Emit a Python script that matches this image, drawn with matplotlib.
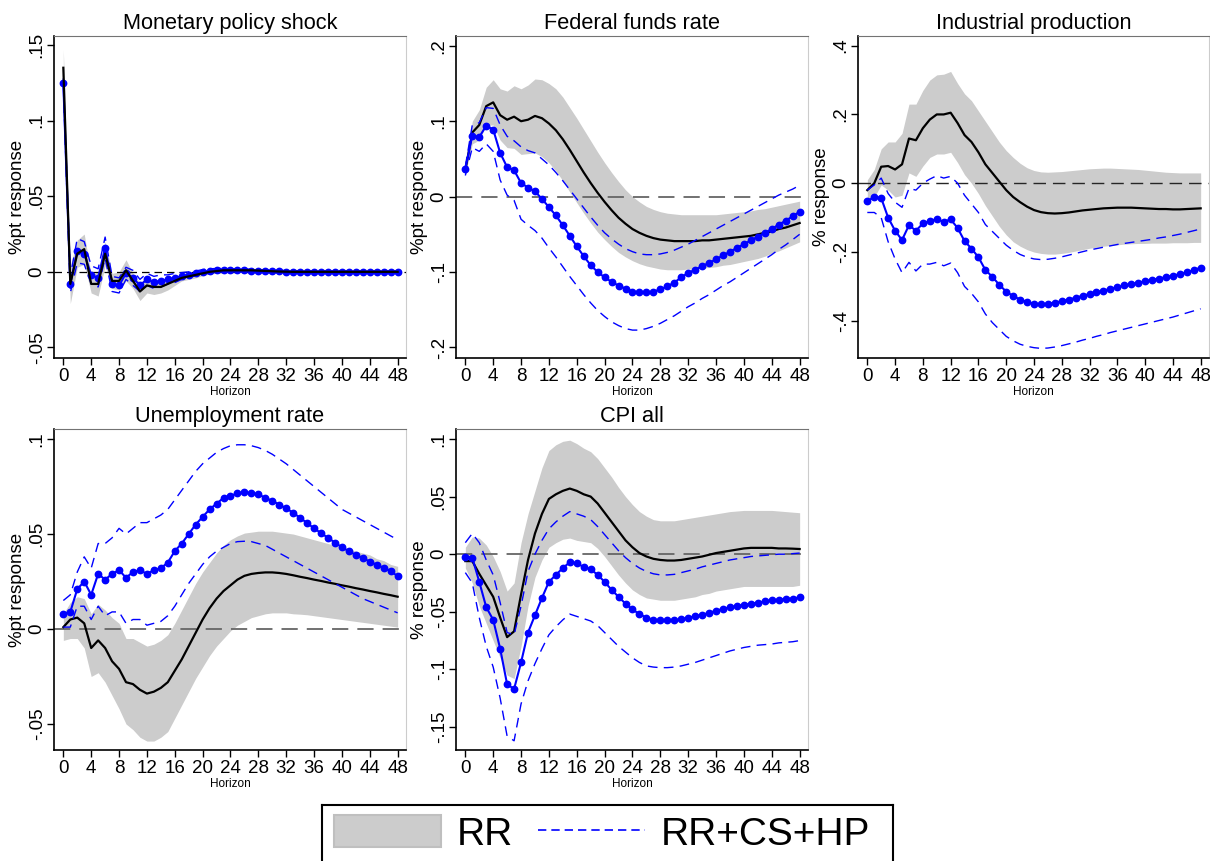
import numpy as np
import matplotlib
matplotlib.use("Agg")
import matplotlib.pyplot as plt
from matplotlib.patches import Patch
from matplotlib.lines import Line2D
from matplotlib.ticker import FuncFormatter

plt.rcParams['font.family'] = ['Liberation Sans', 'DejaVu Sans']

horizon = np.arange(49)
xticks = list(range(0, 49, 4))

# Monetary policy shock
mps_rr = [0.135, -0.008, 0.012, 0.015, -0.008, -0.008, 0.012, -0.006, -0.006, 0.001,
          -0.006, -0.013, -0.009, -0.010, -0.010, -0.008, -0.006, -0.004, -0.003, -0.002,
          -0.001, 0.000, 0.0005, 0.001, 0.001, 0.001, 0.001, 0.001, 0.0008, 0.0006,
          0.0004, 0.0002, 0.0001, 0.0, 0.0, 0.0, 0.0, 0.0, 0.0, 0.0,
          0.0, 0.0, 0.0, 0.0, 0.0, 0.0, 0.0, 0.0, 0.0]
mps_rr_hi = [0.147, 0.004, 0.021, 0.025, -0.002, 0.000, 0.020, -0.001, 0.000, 0.008,
             -0.001, -0.007, -0.004, -0.005, -0.006, -0.004, -0.003, -0.002, -0.001, 0.000,
             0.0005, 0.0015, 0.002, 0.0025, 0.0025, 0.0025, 0.0025, 0.0022, 0.002, 0.0017,
             0.0014, 0.0012, 0.001, 0.0009, 0.0008, 0.0008, 0.0007, 0.0007, 0.0007, 0.0007,
             0.0007, 0.0007, 0.0007, 0.0007, 0.0007, 0.0007, 0.0007, 0.0007, 0.0007]
mps_rr_lo = [0.123, -0.021, 0.003, 0.005, -0.014, -0.016, 0.004, -0.011, -0.012, -0.006,
             -0.011, -0.019, -0.014, -0.015, -0.014, -0.012, -0.009, -0.006, -0.005, -0.004,
             -0.0025, -0.0015, -0.001, -0.0005, -0.0005, -0.0005, -0.0005, -0.0005, -0.0006, -0.0007,
             -0.0008, -0.0009, -0.0009, -0.0009, -0.0008, -0.0008, -0.0007, -0.0007, -0.0007, -0.0007,
             -0.0007, -0.0007, -0.0007, -0.0007, -0.0007, -0.0007, -0.0007, -0.0007, -0.0007]
mps_hp = [0.125, -0.008, 0.014, 0.012, -0.002, -0.004, 0.016, -0.008, -0.009, -0.001,
          -0.004, -0.009, -0.005, -0.007, -0.006, -0.005, -0.004, -0.003, -0.002, -0.001,
          0.000, 0.0005, 0.001, 0.001, 0.001, 0.001, 0.001, 0.0008, 0.0006, 0.0005,
          0.0004, 0.0003, 0.0002, 0.0001, 0.0, 0.0, 0.0, 0.0, 0.0, 0.0,
          0.0, 0.0, 0.0, 0.0, 0.0, 0.0, 0.0, 0.0, 0.0]
mps_hp_hi = [0.128, -0.003, 0.022, 0.020, 0.004, 0.002, 0.023, -0.003, -0.004, 0.003,
             0.001, -0.005, -0.001, -0.003, -0.002, -0.002, -0.001, -0.0005, 0.000, 0.0005,
             0.0015, 0.002, 0.0022, 0.0022, 0.002, 0.002, 0.0019, 0.0017, 0.0015, 0.0013,
             0.0011, 0.001, 0.0009, 0.0008, 0.0007, 0.0007, 0.0006, 0.0006, 0.0006, 0.0006,
             0.0006, 0.0006, 0.0006, 0.0006, 0.0006, 0.0006, 0.0006, 0.0006, 0.0006]
mps_hp_lo = [0.122, -0.014, 0.006, 0.005, -0.008, -0.010, 0.009, -0.013, -0.014, -0.005,
             -0.009, -0.013, -0.009, -0.011, -0.010, -0.008, -0.007, -0.005, -0.004, -0.0025,
             -0.0015, -0.001, -0.0002, 0.0, 0.0, 0.0, 0.0, -0.0001, -0.0003, -0.0004,
             -0.0005, -0.0006, -0.0007, -0.0007, -0.0007, -0.0007, -0.0006, -0.0006, -0.0006, -0.0006,
             -0.0006, -0.0006, -0.0006, -0.0006, -0.0006, -0.0006, -0.0006, -0.0006, -0.0006]

# Federal funds rate
ffr_rr = [0.035, 0.085, 0.095, 0.120, 0.125, 0.108, 0.102, 0.106, 0.100, 0.102,
          0.107, 0.104, 0.097, 0.088, 0.076, 0.062, 0.047, 0.032, 0.018, 0.005,
          -0.007, -0.018, -0.028, -0.036, -0.043, -0.048, -0.052, -0.055, -0.057, -0.058,
          -0.059, -0.059, -0.059, -0.059, -0.058, -0.058, -0.057, -0.056, -0.055, -0.054,
          -0.053, -0.052, -0.050, -0.048, -0.046, -0.043, -0.041, -0.038, -0.035]
ffr_rr_hi = [0.040, 0.100, 0.115, 0.145, 0.155, 0.143, 0.140, 0.147, 0.143, 0.148,
             0.156, 0.155, 0.150, 0.143, 0.132, 0.118, 0.104, 0.089, 0.074, 0.059,
             0.045, 0.032, 0.020, 0.009, 0.000, -0.007, -0.013, -0.017, -0.020, -0.022,
             -0.023, -0.024, -0.024, -0.024, -0.024, -0.024, -0.024, -0.023, -0.022, -0.021,
             -0.020, -0.019, -0.017, -0.016, -0.014, -0.012, -0.010, -0.008, -0.006]
ffr_rr_lo = [0.030, 0.070, 0.075, 0.095, 0.095, 0.075, 0.065, 0.064, 0.056, 0.057,
             0.058, 0.053, 0.045, 0.034, 0.021, 0.006, -0.008, -0.022, -0.035, -0.047,
             -0.057, -0.066, -0.074, -0.080, -0.085, -0.089, -0.092, -0.094, -0.096, -0.097,
             -0.097, -0.097, -0.096, -0.096, -0.095, -0.094, -0.093, -0.091, -0.090, -0.088,
             -0.086, -0.084, -0.082, -0.079, -0.075, -0.072, -0.068, -0.064, -0.060]
ffr_hp = [0.037, 0.081, 0.079, 0.094, 0.089, 0.058, 0.039, 0.035, 0.018, 0.012,
          0.007, -0.003, -0.014, -0.025, -0.038, -0.052, -0.066, -0.079, -0.091, -0.100,
          -0.107, -0.113, -0.118, -0.122, -0.126, -0.127, -0.127, -0.126, -0.123, -0.119,
          -0.114, -0.107, -0.101, -0.097, -0.092, -0.088, -0.083, -0.078, -0.073, -0.068,
          -0.063, -0.058, -0.053, -0.048, -0.043, -0.037, -0.032, -0.026, -0.020]
ffr_hp_hi = [0.040, 0.095, 0.098, 0.118, 0.117, 0.095, 0.080, 0.074, 0.066, 0.061,
             0.058, 0.050, 0.042, 0.032, 0.021, 0.009, -0.003, -0.015, -0.027, -0.038,
             -0.048, -0.056, -0.063, -0.069, -0.073, -0.076, -0.077, -0.077, -0.076, -0.074,
             -0.071, -0.067, -0.063, -0.058, -0.053, -0.048, -0.043, -0.038, -0.033, -0.028,
             -0.023, -0.018, -0.013, -0.008, -0.003, 0.002, 0.006, 0.010, 0.015]
ffr_hp_lo = [0.028, 0.065, 0.060, 0.070, 0.060, 0.022, 0.002, -0.005, -0.030, -0.038,
             -0.045, -0.055, -0.068, -0.080, -0.093, -0.106, -0.118, -0.130, -0.141, -0.151,
             -0.159, -0.166, -0.171, -0.175, -0.177, -0.177, -0.175, -0.172, -0.168, -0.163,
             -0.158, -0.152, -0.146, -0.141, -0.135, -0.130, -0.124, -0.118, -0.113, -0.107,
             -0.101, -0.095, -0.089, -0.083, -0.077, -0.070, -0.064, -0.057, -0.050]

# Industrial production
ip_rr = [-0.020, 0.000, 0.048, 0.050, 0.040, 0.055, 0.130, 0.125, 0.160, 0.185,
         0.200, 0.200, 0.205, 0.175, 0.140, 0.120, 0.090, 0.055, 0.030, 0.005,
         -0.020, -0.040, -0.055, -0.068, -0.078, -0.084, -0.087, -0.088, -0.087, -0.085,
         -0.082, -0.079, -0.077, -0.075, -0.073, -0.072, -0.071, -0.071, -0.071, -0.072,
         -0.073, -0.074, -0.075, -0.075, -0.076, -0.076, -0.075, -0.074, -0.073]
ip_rr_hi = [0.010, 0.040, 0.100, 0.120, 0.120, 0.145, 0.230, 0.230, 0.270, 0.300,
            0.315, 0.317, 0.325, 0.290, 0.260, 0.240, 0.210, 0.180, 0.150, 0.120,
            0.095, 0.075, 0.058, 0.045, 0.037, 0.033, 0.032, 0.033, 0.034, 0.036,
            0.038, 0.040, 0.042, 0.043, 0.044, 0.044, 0.043, 0.042, 0.041, 0.040,
            0.038, 0.036, 0.034, 0.032, 0.031, 0.030, 0.030, 0.030, 0.030]
ip_rr_lo = [-0.045, -0.040, -0.005, -0.020, -0.040, -0.035, 0.030, 0.020, 0.050, 0.075,
            0.085, 0.085, 0.090, 0.060, 0.025, 0.000, -0.030, -0.065, -0.095, -0.125,
            -0.150, -0.170, -0.183, -0.193, -0.200, -0.204, -0.206, -0.206, -0.204, -0.201,
            -0.197, -0.193, -0.189, -0.186, -0.183, -0.181, -0.179, -0.177, -0.176, -0.175,
            -0.175, -0.174, -0.174, -0.174, -0.173, -0.173, -0.173, -0.172, -0.172]
ip_hp = [-0.052, -0.040, -0.043, -0.100, -0.138, -0.165, -0.122, -0.138, -0.117, -0.110,
         -0.104, -0.112, -0.105, -0.130, -0.168, -0.190, -0.215, -0.252, -0.272, -0.295,
         -0.315, -0.328, -0.338, -0.345, -0.350, -0.352, -0.350, -0.347, -0.343, -0.338,
         -0.333, -0.327, -0.322, -0.317, -0.312, -0.307, -0.302, -0.297, -0.293, -0.289,
         -0.285, -0.281, -0.277, -0.273, -0.269, -0.264, -0.259, -0.253, -0.245]
ip_hp_hi = [-0.020, -0.005, 0.015, -0.030, -0.055, -0.070, -0.015, -0.020, 0.000, 0.012,
            0.022, 0.015, 0.020, 0.000, -0.035, -0.060, -0.085, -0.120, -0.140, -0.160,
            -0.180, -0.195, -0.207, -0.215, -0.220, -0.222, -0.221, -0.218, -0.214, -0.209,
            -0.204, -0.199, -0.194, -0.190, -0.186, -0.182, -0.178, -0.175, -0.172, -0.169,
            -0.166, -0.163, -0.159, -0.156, -0.152, -0.148, -0.143, -0.138, -0.133]
ip_hp_lo = [-0.085, -0.085, -0.100, -0.170, -0.220, -0.260, -0.230, -0.255, -0.235, -0.235,
            -0.230, -0.240, -0.232, -0.260, -0.300, -0.320, -0.345, -0.380, -0.405, -0.425,
            -0.445, -0.458, -0.468, -0.474, -0.478, -0.480, -0.479, -0.476, -0.472, -0.467,
            -0.462, -0.456, -0.451, -0.445, -0.440, -0.434, -0.429, -0.424, -0.419, -0.414,
            -0.409, -0.404, -0.399, -0.394, -0.389, -0.383, -0.377, -0.371, -0.365]

# Unemployment rate
ur_rr = [0.001, 0.005, 0.006, 0.003, -0.010, -0.006, -0.010, -0.017, -0.021, -0.028,
         -0.029, -0.032, -0.034, -0.033, -0.031, -0.028, -0.022, -0.016, -0.009, -0.002,
         0.005, 0.011, 0.016, 0.020, 0.023, 0.026, 0.028, 0.029, 0.0295, 0.0298,
         0.0298, 0.0295, 0.029, 0.0283, 0.0275, 0.0268, 0.026, 0.0253, 0.0245, 0.0238,
         0.023, 0.0223, 0.0215, 0.0208, 0.020, 0.0193, 0.0185, 0.0178, 0.017]
ur_rr_hi = [0.008, 0.014, 0.017, 0.016, 0.008, 0.013, 0.010, 0.006, 0.003, -0.005,
            -0.005, -0.007, -0.009, -0.008, -0.006, -0.003, 0.003, 0.010, 0.017, 0.024,
            0.030, 0.035, 0.040, 0.044, 0.047, 0.049, 0.0505, 0.051, 0.0515, 0.0515,
            0.0515, 0.051, 0.0505, 0.050, 0.049, 0.048, 0.047, 0.046, 0.045, 0.044,
            0.043, 0.042, 0.041, 0.040, 0.039, 0.037, 0.036, 0.034, 0.033]
ur_rr_lo = [-0.006, -0.005, -0.005, -0.010, -0.025, -0.023, -0.028, -0.035, -0.042, -0.050,
            -0.053, -0.057, -0.059, -0.059, -0.057, -0.054, -0.047, -0.040, -0.033, -0.026,
            -0.020, -0.014, -0.009, -0.005, -0.001, 0.002, 0.004, 0.006, 0.007, 0.008,
            0.0085, 0.0085, 0.0085, 0.008, 0.0078, 0.0075, 0.007, 0.0065, 0.006, 0.0055,
            0.005, 0.0045, 0.004, 0.0035, 0.003, 0.0025, 0.002, 0.0015, 0.001]
ur_hp = [0.008, 0.009, 0.021, 0.025, 0.018, 0.029, 0.026, 0.029, 0.031, 0.027,
         0.030, 0.031, 0.029, 0.031, 0.032, 0.035, 0.041, 0.045, 0.050, 0.055,
         0.059, 0.063, 0.066, 0.069, 0.070, 0.0715, 0.072, 0.0715, 0.071, 0.069,
         0.0675, 0.0655, 0.0635, 0.0612, 0.0585, 0.0558, 0.053, 0.0505, 0.048, 0.0455,
         0.043, 0.041, 0.039, 0.0373, 0.0355, 0.0338, 0.0322, 0.0305, 0.0278]
ur_hp_hi = [0.015, 0.018, 0.030, 0.038, 0.032, 0.045, 0.045, 0.048, 0.053, 0.050,
            0.053, 0.056, 0.056, 0.058, 0.060, 0.063, 0.068, 0.073, 0.078, 0.083,
            0.087, 0.090, 0.093, 0.095, 0.0965, 0.097, 0.097, 0.0965, 0.0955, 0.094,
            0.092, 0.0895, 0.087, 0.084, 0.081, 0.078, 0.075, 0.072, 0.069, 0.066,
            0.063, 0.061, 0.059, 0.057, 0.055, 0.053, 0.051, 0.049, 0.047]
ur_hp_lo = [0.001, 0.001, 0.012, 0.012, 0.005, 0.012, 0.007, 0.009, 0.009, 0.003,
            0.005, 0.005, 0.002, 0.003, 0.004, 0.007, 0.012, 0.018, 0.024, 0.029,
            0.034, 0.038, 0.041, 0.043, 0.045, 0.046, 0.0462, 0.046, 0.045, 0.044,
            0.042, 0.040, 0.038, 0.036, 0.034, 0.032, 0.030, 0.028, 0.026, 0.024,
            0.022, 0.020, 0.018, 0.016, 0.0145, 0.013, 0.0115, 0.010, 0.0085]

# CPI all
cpi_rr = [-0.006, -0.006, -0.017, -0.027, -0.037, -0.055, -0.072, -0.067, -0.035, -0.005,
          0.018, 0.035, 0.048, 0.052, 0.055, 0.057, 0.055, 0.052, 0.050, 0.044,
          0.036, 0.028, 0.020, 0.012, 0.006, 0.001, -0.002, -0.004, -0.005, -0.0055,
          -0.0055, -0.005, -0.004, -0.003, -0.002, -0.0005, 0.001, 0.002, 0.003, 0.004,
          0.005, 0.0055, 0.0055, 0.0055, 0.0055, 0.005, 0.005, 0.0048, 0.0045]
cpi_rr_hi = [0.006, 0.015, 0.014, 0.008, -0.002, -0.015, -0.032, -0.025, 0.010, 0.035,
             0.055, 0.075, 0.090, 0.095, 0.098, 0.099, 0.096, 0.092, 0.089, 0.083,
             0.075, 0.067, 0.058, 0.050, 0.043, 0.037, 0.033, 0.030, 0.029, 0.029,
             0.029, 0.030, 0.031, 0.032, 0.033, 0.034, 0.035, 0.036, 0.037, 0.0375,
             0.038, 0.038, 0.038, 0.038, 0.038, 0.0375, 0.037, 0.0365, 0.036]
cpi_rr_lo = [-0.012, -0.025, -0.045, -0.060, -0.075, -0.090, -0.105, -0.108, -0.080, -0.045,
             -0.020, -0.005, 0.006, 0.010, 0.013, 0.014, 0.012, 0.011, 0.010, 0.005,
             -0.002, -0.010, -0.018, -0.025, -0.031, -0.035, -0.038, -0.039, -0.040, -0.040,
             -0.040, -0.039, -0.038, -0.037, -0.035, -0.034, -0.032, -0.031, -0.030, -0.029,
             -0.028, -0.028, -0.028, -0.028, -0.028, -0.028, -0.028, -0.028, -0.027]
cpi_hp = [-0.002, -0.003, -0.024, -0.046, -0.057, -0.082, -0.113, -0.117, -0.094, -0.068,
          -0.053, -0.038, -0.024, -0.018, -0.012, -0.007, -0.008, -0.011, -0.013, -0.018,
          -0.024, -0.031, -0.037, -0.043, -0.048, -0.052, -0.055, -0.057, -0.0575, -0.0575,
          -0.0575, -0.0565, -0.055, -0.054, -0.0525, -0.051, -0.049, -0.0475, -0.046, -0.045,
          -0.044, -0.043, -0.042, -0.041, -0.040, -0.0395, -0.039, -0.0385, -0.0375]
cpi_hp_hi = [0.010, 0.018, 0.010, -0.005, -0.018, -0.042, -0.068, -0.070, -0.045, -0.015,
             0.000, 0.012, 0.022, 0.028, 0.033, 0.037, 0.035, 0.033, 0.030, 0.024,
             0.017, 0.010, 0.003, -0.003, -0.008, -0.012, -0.015, -0.017, -0.018, -0.018,
             -0.0175, -0.016, -0.0145, -0.013, -0.011, -0.0095, -0.008, -0.0065, -0.005, -0.004,
             -0.003, -0.002, -0.0015, -0.001, -0.0005, 0.000, 0.000, 0.0005, 0.001]
cpi_hp_lo = [-0.016, -0.025, -0.055, -0.080, -0.098, -0.125, -0.158, -0.162, -0.130, -0.110,
             -0.095, -0.082, -0.070, -0.063, -0.057, -0.052, -0.054, -0.056, -0.058, -0.062,
             -0.068, -0.074, -0.080, -0.085, -0.090, -0.094, -0.097, -0.098, -0.0985, -0.0985,
             -0.098, -0.097, -0.0955, -0.094, -0.092, -0.090, -0.088, -0.086, -0.084, -0.0825,
             -0.081, -0.080, -0.079, -0.0785, -0.078, -0.077, -0.0765, -0.076, -0.075]

W, H = 1210, 861


def px_rect(left, right, top, bottom):
    # pixel box -> figure fraction [l, b, w, h]
    return [left / W, 1 - bottom / H, (right - left) / W, (bottom - top) / H]


def stata_fmt(v, pos=None):
    s = "%g" % round(v, 4)
    return s.replace("0.", ".")


panels = [
    dict(title="Monetary policy shock", ylabel="%pt response",
         rr=mps_rr, rr_lo=mps_rr_lo, rr_hi=mps_rr_hi, hp=mps_hp, hp_lo=mps_hp_lo, hp_hi=mps_hp_hi,
         ylim=(-0.057, 0.156), yticks=[-0.05, 0, 0.05, 0.1, 0.15],
         box=(54, 406, 36, 358), zero=("black", (0, (6, 4)), 0.9), black_top=True),
    dict(title="Federal funds rate", ylabel="%pt response",
         rr=ffr_rr, rr_lo=ffr_rr_lo, rr_hi=ffr_rr_hi, hp=ffr_hp, hp_lo=ffr_hp_lo, hp_hi=ffr_hp_hi,
         ylim=(-0.214, 0.213), yticks=[-0.2, -0.1, 0, 0.1, 0.2],
         box=(456, 808, 36, 358), zero=("0.4", (0, (9, 5)), 1.3), black_top=False),
    dict(title="Industrial production", ylabel="% response",
         rr=ip_rr, rr_lo=ip_rr_lo, rr_hi=ip_rr_hi, hp=ip_hp, hp_lo=ip_hp_lo, hp_hi=ip_hp_hi,
         ylim=(-0.508, 0.428), yticks=[-0.4, -0.2, 0, 0.2, 0.4],
         box=(858, 1209, 36, 358), zero=("0.15", (0, (9, 5)), 1.0), black_top=False),
    dict(title="Unemployment rate", ylabel="%pt response",
         rr=ur_rr, rr_lo=ur_rr_lo, rr_hi=ur_rr_hi, hp=ur_hp, hp_lo=ur_hp_lo, hp_hi=ur_hp_hi,
         ylim=(-0.0637, 0.1053), yticks=[-0.05, 0, 0.05, 0.1],
         box=(54, 406, 429, 750), zero=("0.4", (0, (9, 5)), 1.3), black_top=False),
    dict(title="CPI all", ylabel="% response",
         rr=cpi_rr, rr_lo=cpi_rr_lo, rr_hi=cpi_rr_hi, hp=cpi_hp, hp_lo=cpi_hp_lo, hp_hi=cpi_hp_hi,
         ylim=(-0.170, 0.1087), yticks=[-0.15, -0.1, -0.05, 0, 0.05, 0.1],
         box=(456, 808, 429, 750), zero=("0.4", (0, (9, 5)), 1.3), black_top=False),
]

fig = plt.figure(figsize=(W / 100, H / 100), dpi=100)

for p in panels:
    ax = fig.add_axes(px_rect(*p["box"]))
    ax.fill_between(horizon, p["rr_lo"], p["rr_hi"], color="0.8", lw=0, zorder=1)
    zc, zls, zlw = p["zero"]
    ax.axhline(0, color=zc, ls=zls, lw=zlw, zorder=2)
    ax.plot(horizon, p["rr"], color="black", lw=1.6, zorder=6 if p["black_top"] else 3)
    ax.plot(horizon, p["hp_hi"], color="#0000ff", lw=1, ls=(0, (7, 4.5)), zorder=4)
    ax.plot(horizon, p["hp_lo"], color="#0000ff", lw=1, ls=(0, (7, 4.5)), zorder=4)
    ax.plot(horizon, p["hp"], color="#0000ff", lw=1.5, marker="o", ms=4.6, zorder=5)

    ax.set_xlim(-1.34, 49.2)
    ax.set_ylim(*p["ylim"])
    ax.set_xticks(xticks)
    ax.set_yticks(p["yticks"])
    ax.yaxis.set_major_formatter(FuncFormatter(stata_fmt))
    ax.tick_params(axis="both", direction="out", length=5, width=1, labelsize=13.5, pad=2)
    ax.tick_params(axis="y", labelrotation=90, pad=1)
    for lab in ax.get_yticklabels():
        lab.set_va("center")
    ax.set_xlabel("Horizon", fontsize=8.5, labelpad=1)
    ax.set_ylabel(p["ylabel"], fontsize=13.5, labelpad=2)
    ax.set_title(p["title"], fontsize=15.7, pad=5)
    for side in ["left", "bottom"]:
        ax.spines[side].set_color("black")
        ax.spines[side].set_linewidth(1.2)
    ax.spines["top"].set_color("0.45")
    ax.spines["right"].set_color("0.8")

# legend box
lax = fig.add_axes(px_rect(322, 893, 805, 880))
lax.set_xticks([])
lax.set_yticks([])
for s in lax.spines.values():
    s.set_color("black")
    s.set_linewidth(1.5)
handles = [Patch(facecolor="0.8", edgecolor="0.75", lw=1.5),
           Line2D([0], [0], color="#0000ff", lw=1.2, ls=(0, (5, 3)))]
lax.legend(handles, ["RR", "RR+CS+HP"], loc="center", bbox_to_anchor=(0.491, 0.613),
           ncol=2, frameon=False, fontsize=28, handlelength=2.75, handleheight=0.87,
           handletextpad=0.41, columnspacing=0.64, borderpad=0, borderaxespad=0)

fig.savefig("out.png", dpi=100)
